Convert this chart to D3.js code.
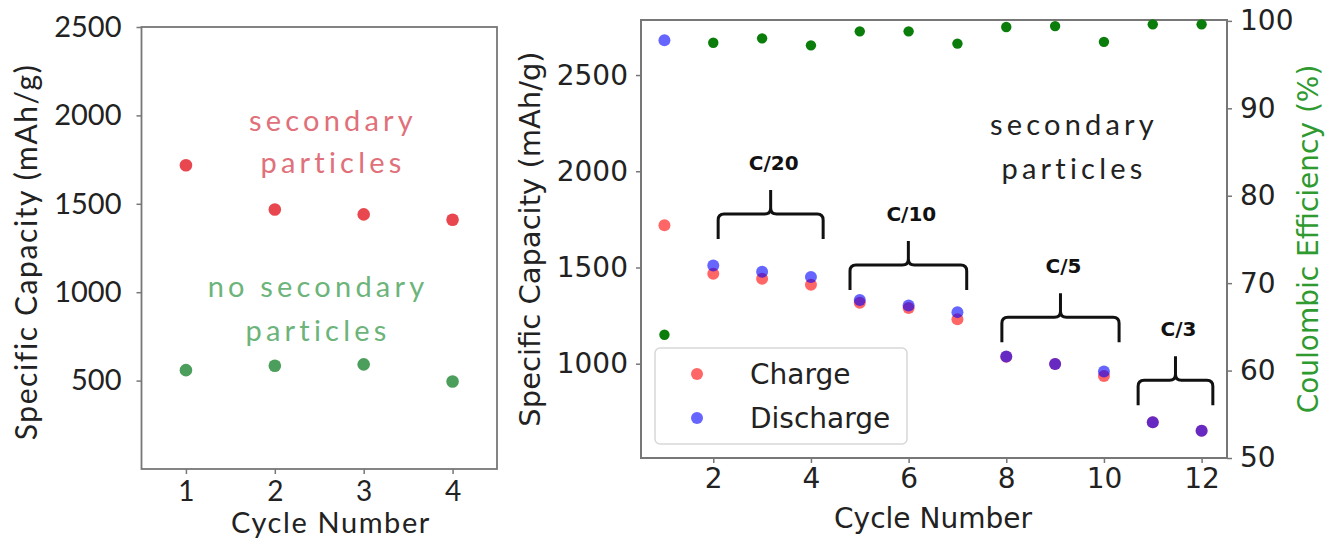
<!DOCTYPE html>
<html>
<head>
<meta charset="utf-8">
<script src="https://cdn.jsdelivr.net/npm/d3@7"></script>
<style>
  html, body { margin: 0; padding: 0; background: #fff; }
  svg { display: block; }
</style>
</head>
<body>
<svg id="chart" width="1325" height="539"></svg>
<script>
// ---- Left panel: first four cycles, with and without secondary particles ----
const cyclesLeft = [1, 2, 3, 4];
const capSecondary = [1718, 1468, 1440, 1410];
const capNoSecondary = [559, 584, 592, 495];
const leftXTicks = [1, 2, 3, 4];
const leftYTicks = [500, 1000, 1500, 2000, 2500];

// ---- Right panel: rate test of the secondary-particle electrode ----
const cyclesRight = [1, 2, 3, 4, 5, 6, 7, 8, 9, 10, 11, 12];
const capCharge = [1719, 1468, 1442, 1410, 1317, 1290, 1231, 1036, 998, 936, 696, 652];
const capDischarge = [2681, 1510, 1478, 1451, 1331, 1302, 1268, 1038, 998, 959, 696, 652];
const coulombicEff = [64.1, 97.5, 98.0, 97.2, 98.8, 98.8, 97.4, 99.3, 99.4, 97.6, 99.6, 99.6];
const rightXTicks = [2, 4, 6, 8, 10, 12];
const rightYTicks = [1000, 1500, 2000, 2500];
const effTicks = [50, 60, 70, 80, 90, 100];

// C-rate groups: label, first and last cycle covered by the brace, capacity level of the brace
const rateLabels = ["C/20", "C/10", "C/5", "C/3"];
const rateFrom = [2.1, 4.8, 7.91, 10.7];
const rateTo = [4.25, 7.19, 10.31, 12.23];
const rateLevel = [1778, 1513, 1241, 914];

const svg = d3.select("#chart");
const axisGrey = "#777";

function frame(g, x0, y0, x1, y1, w) {
  g.append("rect")
    .attr("x", x0).attr("y", y0)
    .attr("width", x1 - x0).attr("height", y1 - y0)
    .attr("fill", "none").attr("stroke", axisGrey).attr("stroke-width", w);
}

function styleAxis(sel, font, size) {
  sel.select(".domain").remove();
  sel.selectAll(".tick line").attr("stroke", axisGrey).attr("stroke-width", 1.5);
  sel.selectAll(".tick text")
    .attr("fill", "#222")
    .style("font-family", font)
    .style("font-size", size + "px");
}

// ================= LEFT PANEL =================
{
  const L = { x0: 141.5, x1: 497, y0: 27, y1: 469 };
  const fontL = "Lato, 'Open Sans', sans-serif";
  const x = d3.scaleLinear().domain([0.5, 4.5]).range([L.x0, L.x1]);
  const y = d3.scaleLinear().domain([0, 2500]).range([L.y1, L.y0]);
  const g = svg.append("g");

  const xa = g.append("g").attr("transform", `translate(0,${L.y1})`)
    .call(d3.axisBottom(x).tickValues(leftXTicks).tickSize(5).tickPadding(7).tickFormat(d3.format("d")));
  styleAxis(xa, fontL, 28);

  const ya = g.append("g").attr("transform", `translate(${L.x0},0)`)
    .call(d3.axisLeft(y).tickValues(leftYTicks).tickSize(5).tickPadding(15).tickFormat(d3.format("d")));
  styleAxis(ya, fontL, 29);

  frame(g, L.x0, L.y0, L.x1, L.y1, 1.8);

  g.append("text")
    .attr("transform", `translate(37,252) rotate(-90)`)
    .attr("text-anchor", "middle")
    .attr("fill", "#222")
    .style("font-family", fontL).style("font-size", "30px").style("letter-spacing", "1.6px")
    .text("Specific Capacity (mAh/g)");

  g.append("text")
    .attr("x", 331).attr("y", 533)
    .attr("text-anchor", "middle")
    .attr("fill", "#222")
    .style("font-family", fontL).style("font-size", "29px").style("letter-spacing", "1.6px")
    .text("Cycle Number");

  g.selectAll("circle.sec").data(cyclesLeft).join("circle")
    .attr("class", "sec")
    .attr("cx", d => x(d)).attr("cy", (d, i) => y(capSecondary[i]))
    .attr("r", 6.3).attr("fill", "#e8474f");

  g.selectAll("circle.nosec").data(cyclesLeft).join("circle")
    .attr("class", "nosec")
    .attr("cx", d => x(d)).attr("cy", (d, i) => y(capNoSecondary[i]))
    .attr("r", 6.3).attr("fill", "#4b9e5b");

  const note = (txt, cx, by, color) => g.append("text")
    .attr("x", cx).attr("y", by).attr("text-anchor", "middle")
    .attr("fill", color)
    .style("font-family", fontL).style("font-size", "29px").style("letter-spacing", "4.2px")
    .text(txt);
  note("secondary", 333, 131, "#e0707a");
  note("particles", 333, 173, "#e0707a");
  note("no secondary", 318, 297, "#6cb47a");
  note("particles", 318, 341, "#6cb47a");
}

// ================= RIGHT PANEL =================
{
  const R = { x0: 641, x1: 1227, y0: 20, y1: 458 };
  const fontR = "'DejaVu Sans', sans-serif";
  const x = d3.scaleLinear().domain([0.52, 12.52]).range([R.x0, R.x1]);
  const y = d3.scaleLinear().domain([510, 2786]).range([R.y1, R.y0]);
  const y2 = d3.scaleLinear().domain([50, 100.1]).range([R.y1, R.y0]);
  const g = svg.append("g");

  const xa = g.append("g").attr("transform", `translate(0,${R.y1})`)
    .call(d3.axisBottom(x).tickValues(rightXTicks).tickSize(5).tickPadding(5).tickFormat(d3.format("d")));
  styleAxis(xa, fontR, 28);

  const ya = g.append("g").attr("transform", `translate(${R.x0},0)`)
    .call(d3.axisLeft(y).tickValues(rightYTicks).tickSize(5).tickPadding(8).tickFormat(d3.format("d")));
  styleAxis(ya, fontR, 28);

  const ya2 = g.append("g").attr("transform", `translate(${R.x1},0)`)
    .call(d3.axisRight(y2).tickValues(effTicks).tickSize(5).tickPadding(8).tickFormat(d3.format("d")));
  styleAxis(ya2, fontR, 28);

  frame(g, R.x0, R.y0, R.x1, R.y1, 2);

  g.append("text")
    .attr("transform", `translate(540,${(R.y0 + R.y1) / 2}) rotate(-90)`)
    .attr("text-anchor", "middle")
    .attr("fill", "#222")
    .style("font-family", fontR).style("font-size", "29px")
    .text("Specific Capacity (mAh/g)");

  g.append("text")
    .attr("transform", `translate(1318,${(R.y0 + R.y1) / 2}) rotate(-90)`)
    .attr("text-anchor", "middle")
    .attr("fill", "#2f9a2f")
    .style("font-family", fontR).style("font-size", "28px")
    .text("Coulombic Efficiency (%)");

  g.append("text")
    .attr("x", 933).attr("y", 528)
    .attr("text-anchor", "middle")
    .attr("fill", "#222")
    .style("font-family", fontR).style("font-size", "28px")
    .text("Cycle Number");

  // Coulombic efficiency on the secondary axis
  g.selectAll("circle.ce").data(cyclesRight).join("circle")
    .attr("class", "ce")
    .attr("cx", d => x(d)).attr("cy", (d, i) => y2(coulombicEff[i]))
    .attr("r", 5.2).attr("fill", "#0a7d0a");

  g.selectAll("circle.chg").data(cyclesRight).join("circle")
    .attr("class", "chg")
    .attr("cx", d => x(d)).attr("cy", (d, i) => y(capCharge[i]))
    .attr("r", 6).attr("fill", "red").attr("fill-opacity", 0.6);

  g.selectAll("circle.dis").data(cyclesRight).join("circle")
    .attr("class", "dis")
    .attr("cx", d => x(d)).attr("cy", (d, i) => y(capDischarge[i]))
    .attr("r", 6).attr("fill", "blue").attr("fill-opacity", 0.6);

  // Rate braces
  const rise = 24, drop = 25, rr = 6;
  rateLabels.forEach((lab, i) => {
    const xa0 = x(rateFrom[i]), xa1 = x(rateTo[i]);
    const xc = (xa0 + xa1) / 2, yl = y(rateLevel[i]);
    const p = d3.path();
    p.moveTo(xa0, yl + drop);
    p.lineTo(xa0, yl + rr);
    p.quadraticCurveTo(xa0, yl, xa0 + rr, yl);
    p.lineTo(xc - rr, yl);
    p.quadraticCurveTo(xc, yl, xc, yl - rr);
    p.lineTo(xc, yl - rise);
    p.moveTo(xc, yl - rr);
    p.quadraticCurveTo(xc, yl, xc + rr, yl);
    p.lineTo(xa1 - rr, yl);
    p.quadraticCurveTo(xa1, yl, xa1, yl + rr);
    p.lineTo(xa1, yl + drop);
    g.append("path").attr("d", p.toString())
      .attr("fill", "none").attr("stroke", "#111").attr("stroke-width", 3)
      .attr("stroke-linejoin", "round");
    g.append("text")
      .attr("x", xc + 3).attr("y", yl - rise - 20)
      .attr("text-anchor", "middle").attr("fill", "#111")
      .style("font-family", "'DejaVu Sans', sans-serif")
      .style("font-weight", "bold").style("font-size", "20px")
      .text(lab);
  });

  // Sample annotation
  const fontN = "Lato, 'Open Sans', sans-serif";
  g.append("text").attr("x", 1074).attr("y", 135).attr("text-anchor", "middle")
    .attr("fill", "#222").style("font-family", fontN).style("font-size", "29px").style("letter-spacing", "4.2px")
    .text("secondary");
  g.append("text").attr("x", 1074).attr("y", 179).attr("text-anchor", "middle")
    .attr("fill", "#222").style("font-family", fontN).style("font-size", "29px").style("letter-spacing", "4.2px")
    .text("particles");

  // Legend
  const lg = g.append("g");
  lg.append("rect")
    .attr("x", 655).attr("y", 348).attr("width", 252).attr("height", 96)
    .attr("rx", 5).attr("fill", "#fff").attr("fill-opacity", 0.85)
    .attr("stroke", "#d8d8d8").attr("stroke-width", 1.5);
  const legendItems = ["Charge", "Discharge"];
  const legendColors = ["red", "blue"];
  legendItems.forEach((name, i) => {
    const cy = 374 + i * 44;
    lg.append("circle").attr("cx", 697).attr("cy", cy).attr("r", 6)
      .attr("fill", legendColors[i]).attr("fill-opacity", 0.6);
    lg.append("text").attr("x", 750).attr("y", cy + 10)
      .attr("fill", "#222").style("font-family", fontR).style("font-size", "28px")
      .text(name);
  });
}
</script>
</body>
</html>
